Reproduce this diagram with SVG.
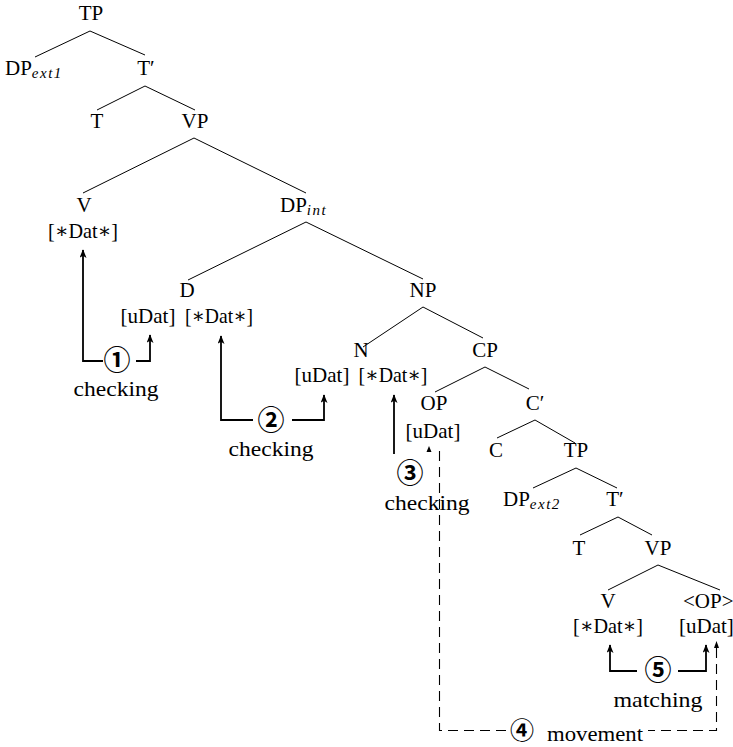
<svg xmlns="http://www.w3.org/2000/svg" width="733" height="747" viewBox="0 0 733 747">
<style>
text{font-family:"Liberation Serif","DejaVu Serif",serif;font-size:21px;fill:#000}
.c{text-anchor:middle}
.sub{font-style:italic;font-size:15px;letter-spacing:1.5px}
.num{font-family:"Noto Sans CJK JP","DejaVu Sans",sans-serif;font-size:27px;font-weight:bold;text-anchor:middle}
.tree line{stroke:#000;stroke-width:1}
.arr{fill:none;stroke:#000;stroke-width:1.8;marker-end:url(#ah)}
.dash{fill:none;stroke:#000;stroke-width:1.1;stroke-dasharray:10 6}
</style>
<defs>
<marker id="ah" viewBox="0 0 10 8" refX="9" refY="4" markerWidth="9" markerHeight="7" markerUnits="userSpaceOnUse" orient="auto"><path d="M0,0 L10,4 L0,8 L2.5,4 z" fill="#000"/></marker>
</defs>
<rect width="733" height="747" fill="#fff"/>
<g id="connectors">
<g class="tree">
<line x1="90" y1="31" x2="35" y2="57"/><line x1="90" y1="31" x2="145" y2="55"/>
<line x1="145" y1="86" x2="97" y2="110"/><line x1="145" y1="86" x2="195" y2="110"/>
<line x1="194" y1="138" x2="83" y2="193"/><line x1="194" y1="138" x2="306" y2="193"/>
<line x1="306" y1="222" x2="188" y2="280"/><line x1="306" y1="222" x2="423" y2="279"/>
<line x1="423" y1="307" x2="363" y2="347"/><line x1="423" y1="307" x2="483" y2="338"/>
<line x1="485" y1="367" x2="435" y2="392"/><line x1="485" y1="367" x2="529" y2="389"/>
<line x1="535" y1="420" x2="497" y2="438"/><line x1="535" y1="420" x2="575" y2="443"/>
<line x1="576" y1="468" x2="533" y2="488"/><line x1="576" y1="468" x2="617" y2="488"/>
<line x1="618" y1="517" x2="580" y2="535"/><line x1="618" y1="517" x2="652" y2="535"/>
<line x1="658" y1="565" x2="608" y2="590"/><line x1="658" y1="565" x2="720" y2="590"/>
</g>
<path class="arr" d="M103,361 H83 V250"/>
<path class="arr" d="M136,361 H150 V335"/>
<path class="arr" d="M253,420 H221 V336"/>
<path class="arr" d="M292,420 H324 V395"/>
<path class="arr" d="M394,454 V395"/>
<path class="arr" d="M637,671 H610 V645"/>
<path class="arr" d="M678,671 H706 V645"/>
<path class="dash" d="M716.5,648 V730.5 H648"/>
<path class="dash" d="M506,730.5 H439.5 V449"/>
<polygon points="716.5,641 714,648 719,648" fill="#000"/>
<polygon points="429,446 426.5,452 431.5,452" fill="#000"/>
</g>
<g id="TP1"><text class="c" x="91" y="20">TP</text></g>
<g id="DPext1"><text x="5" y="75">DP<tspan class="sub" dy="3">ext1</tspan></text></g>
<g id="Tbar1"><text class="c" x="146" y="75">T′</text></g>
<g id="T1"><text class="c" x="97" y="128">T</text></g>
<g id="VP1"><text class="c" x="195" y="128">VP</text></g>
<g id="V1"><text class="c" x="84" y="212">V</text><text class="c" x="83" y="238" textLength="70" lengthAdjust="spacingAndGlyphs">[∗Dat∗]</text></g>
<g id="DPint"><text x="280" y="212">DP<tspan class="sub" dy="3">int</tspan></text></g>
<g id="D"><text class="c" x="187" y="297">D</text><text class="c" x="148" y="323">[uDat]</text><text class="c" x="219" y="323" textLength="68" lengthAdjust="spacingAndGlyphs">[∗Dat∗]</text></g>
<g id="NP"><text class="c" x="423" y="297">NP</text></g>
<g id="N"><text class="c" x="361" y="357">N</text><text class="c" x="322" y="382">[uDat]</text><text class="c" x="393" y="382" textLength="69" lengthAdjust="spacingAndGlyphs">[∗Dat∗]</text></g>
<g id="CP"><text class="c" x="485" y="357">CP</text></g>
<g id="OP"><text class="c" x="434" y="410">OP</text><text class="c" x="433" y="438">[uDat]</text></g>
<g id="Cbar"><text class="c" x="535" y="410">C′</text></g>
<g id="C"><text class="c" x="496" y="457">C</text></g>
<g id="TP2"><text class="c" x="576" y="457">TP</text></g>
<g id="DPext2"><text x="503" y="506">DP<tspan class="sub" dy="3">ext2</tspan></text></g>
<g id="Tbar2"><text class="c" x="615" y="506">T′</text></g>
<g id="T2"><text class="c" x="579" y="555">T</text></g>
<g id="VP2"><text class="c" x="658" y="555">VP</text></g>
<g id="V2"><text class="c" x="608" y="608">V</text><text class="c" x="608" y="633" textLength="70" lengthAdjust="spacingAndGlyphs">[∗Dat∗]</text></g>
<g id="OPtrace"><text x="683" y="608">&lt;OP&gt;</text><text x="679" y="633">[uDat]</text></g>
<g id="label1"><text class="num" x="117" y="370">①</text><text class="c" x="116" y="396" textLength="85" lengthAdjust="spacingAndGlyphs">checking</text></g>
<g id="label2"><text class="num" x="271" y="430">②</text><text class="c" x="271" y="456" textLength="85" lengthAdjust="spacingAndGlyphs">checking</text></g>
<g id="label3"><text class="num" x="410" y="483">③</text><text class="c" x="427" y="510" textLength="85" lengthAdjust="spacingAndGlyphs">checking</text></g>
<g id="label4"><text class="num" x="522" y="739" style="font-size:24px">④</text><text x="547" y="741" textLength="96" lengthAdjust="spacingAndGlyphs">movement</text></g>
<g id="label5"><text class="num" x="658" y="680">⑤</text><text class="c" x="658" y="707" textLength="89" lengthAdjust="spacingAndGlyphs">matching</text></g>
</svg>
